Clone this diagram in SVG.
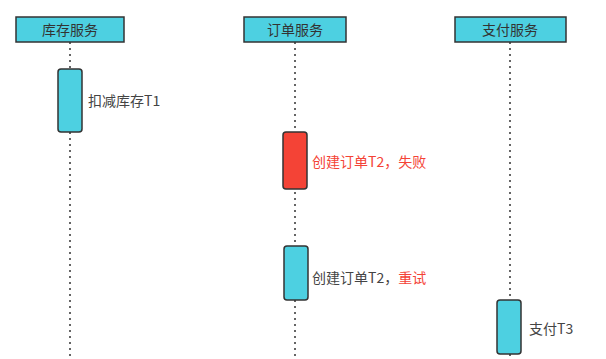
<svg xmlns="http://www.w3.org/2000/svg" width="606" height="359" viewBox="0 0 606 359">
<style>
.hdr{fill:#4dd0e1;stroke:#333;stroke-width:1.5}
.act{fill:#4dd0e1;stroke:#333;stroke-width:1.5}
.fail{fill:#f44336;stroke:#333;stroke-width:1.5}
.life{stroke:#333;stroke-width:1.5;stroke-dasharray:2 4;fill:none}
text{font-family:"Noto Sans CJK SC","Liberation Sans",sans-serif;font-size:14px;fill:#444}
.ht{text-anchor:middle;fill:#333}
.red{fill:#f44336}
</style>
<rect width="606" height="359" fill="#fff"/>
<g id="connectors">
<line class="life" x1="70" y1="42" x2="70" y2="359"/>
<line class="life" x1="295" y1="42" x2="295" y2="359"/>
<line class="life" x1="510" y1="42" x2="510" y2="359"/>
</g>
<g id="inventory"><rect class="hdr" x="16" y="17" width="108" height="25"/><text class="ht" x="70" y="35">库存服务</text></g>
<g id="order"><rect class="hdr" x="244" y="17" width="102" height="25"/><text class="ht" x="295" y="35">订单服务</text></g>
<g id="payment"><rect class="hdr" x="455" y="17" width="111" height="25"/><text class="ht" x="510" y="35">支付服务</text></g>
<g id="t1"><rect class="act" x="58" y="69" width="24" height="63" rx="3"/><text x="88" y="106">扣减库存T1</text></g>
<g id="t2fail"><rect class="fail" x="283" y="132" width="24" height="57" rx="3"/><text class="red" x="312" y="167">创建订单T2，失败</text></g>
<g id="t2retry"><rect class="act" x="284" y="246" width="24" height="54" rx="3"/><text x="312" y="283">创建订单T2，<tspan class="red">重试</tspan></text></g>
<g id="t3"><rect class="act" x="497" y="300" width="24" height="54" rx="3"/><text x="529" y="334">支付T3</text></g>
</svg>
